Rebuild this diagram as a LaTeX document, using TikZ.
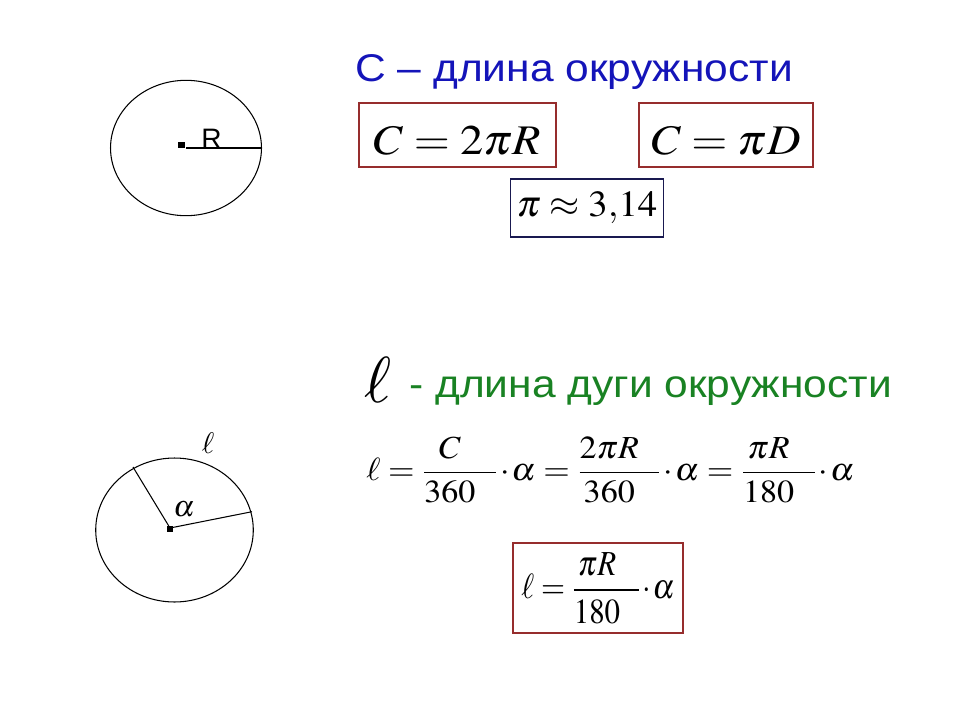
\documentclass[tikz,border=0pt]{standalone}
\usepackage{amsmath}
\usepackage{mathptmx}
\usepackage[no-math]{fontspec}
\setmainfont{Liberation Serif}
\newfontfamily\arialfont{Liberation Sans}
\definecolor{titleblue}{RGB}{20,20,185}
\definecolor{titlegreen}{RGB}{25,130,35}
\definecolor{boxred}{RGB}{150,45,45}
\definecolor{boxblue}{RGB}{25,25,80}
\newcommand{\wide}[2][1.1]{\scalebox{#1}[1]{#2}}
\newcommand{\fr}[2]{\dfrac{#1\hspace{0.6em}}{#2\hspace{0.6em}}}
\newcommand{\ta}{\mkern1mu{\cdot}\mkern1mu\alpha}

\begin{document}
\begin{tikzpicture}[x=0.02cm, y=-0.02cm]
\useasboundingbox (0,0) rectangle (960,720);

% Circle with radius
\coordinate (O1) at (186,148);
\coordinate (R1) at (262,148);
\draw[line width=0.6pt] (O1) ellipse [x radius=1.51cm, y radius=1.354cm];
\draw[line width=0.6pt] (O1) -- (R1);
\fill (178,142) rectangle (185,148);
\node[anchor=base west, inner sep=0] (rlab) at (201,148) {\arialfont\fontsize{16}{18}\selectfont R};

% Circle with arc and angle
\coordinate (O2) at (170,528);
\coordinate (A) at (133,467);
\coordinate (B) at (252,511.7);
\draw[line width=0.6pt] (174.5,530) ellipse [x radius=1.576cm, y radius=1.44cm];
\draw[line width=0.6pt] (A) -- (O2) -- (B);
\fill (167,526) rectangle (173,532);
\node[inner sep=0] (alab) at (184,509) {\fontsize{17}{20}\selectfont$\alpha$};
\node[inner sep=0] (llab) at (208,443) {\fontsize{17}{20}\selectfont$\ell$};

% Circumference
\node[anchor=base west, inner sep=0, text=titleblue] (title1) at (355,81.7)
  {\wide{\arialfont\fontsize{22}{26}\selectfont С – длина окружности}};
\node[draw=boxred, line width=0.8pt, inner sep=0, text height=0.8cm, text depth=0cm,
  minimum width=3.94cm, minimum height=1.28cm] (eq1) at (457.5,135)
  {\fontsize{24}{28}\selectfont\wide{$C=2\pi R$}};
\node[draw=boxred, line width=0.8pt, inner sep=0, text height=0.8cm, text depth=0cm,
  minimum width=3.48cm, minimum height=1.28cm] (eq2) at (726,135)
  {\fontsize{24}{28}\selectfont\wide{$C=\pi D$}};
\node[draw=boxblue, line width=0.8pt, inner sep=0, minimum width=3.06cm, minimum height=1.16cm] (eq3) at (587,208)
  {\fontsize{21}{24}\selectfont\wide[1.05]{$\pi\approx3{,}14$}};

% Arc length
\node[inner sep=0] (ell) at (378,380) {\fontsize{37}{40}\selectfont$\ell$};
\node[anchor=base west, inner sep=0, text=titlegreen] (title2) at (409,397)
  {\wide{\arialfont\fontsize{22}{26}\selectfont - длина дуги окружности}};
\node[anchor=west, inner sep=0] (eq4) at (366,470)
  {\fontsize{18.3}{22}\selectfont\wide[1.06]{$\displaystyle\ell=\fr{C}{360}\ta=\fr{2\pi R}{360}\ta=\fr{\pi R}{180}\ta$}};
\node[draw=boxred, line width=0.8pt, inner sep=0, minimum width=3.4cm, minimum height=1.8cm] (eq5) at (598,588)
  {\fontsize{20}{24}\selectfont\wide[0.88]{$\displaystyle\ell=\fr{\pi R}{180}\ta$}};

\end{tikzpicture}
\end{document}
